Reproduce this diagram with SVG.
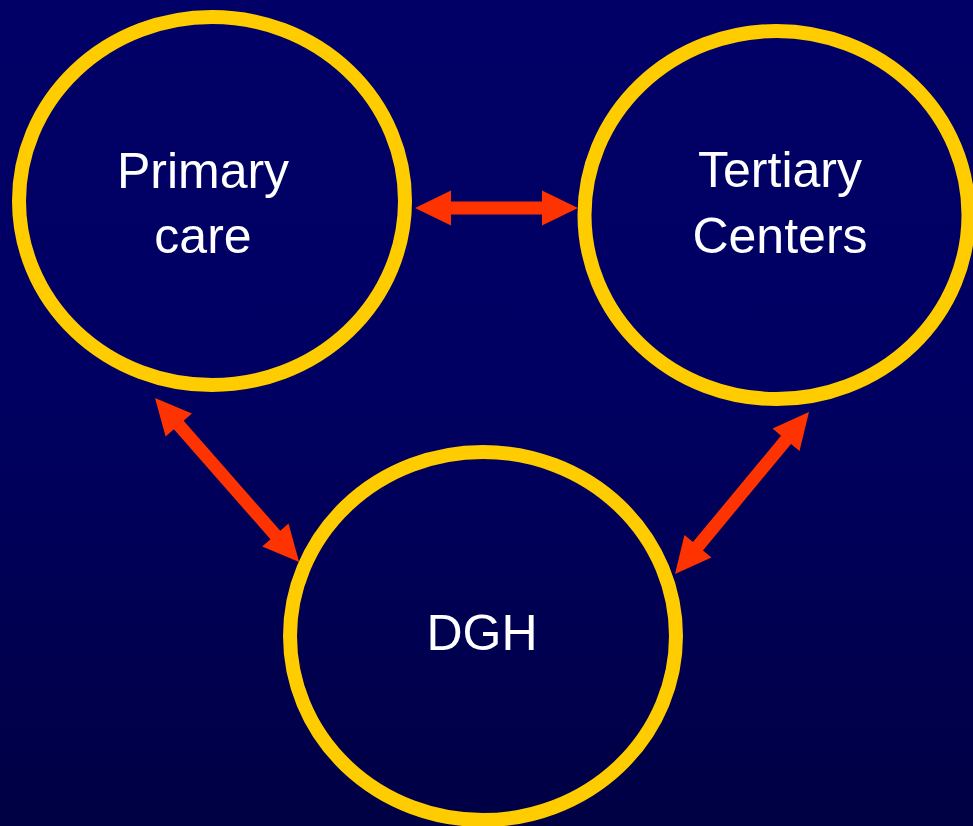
<svg xmlns="http://www.w3.org/2000/svg" width="973" height="826" viewBox="0 0 973 826">
  <defs>
    <linearGradient id="bg" x1="0" y1="0" x2="0" y2="1">
      <stop offset="0" stop-color="#000066"/>
      <stop offset="0.45" stop-color="#000063"/>
      <stop offset="1" stop-color="#000044"/>
    </linearGradient>
  </defs>
  <style>
    .ring { fill: none; stroke: #FFCC00; stroke-width: 14; }
    .lbl { fill: #FFFFFF; font-family: "Liberation Sans", Arial, sans-serif; font-size: 50px; text-anchor: middle; }
    .arr { fill: #FF3300; }
  </style>
  <rect x="0" y="0" width="973" height="826" fill="url(#bg)"/>
  <g id="connectors">
    <polygon class="arr" transform="translate(415,208)" points="0,0 36,-17.5 36,-6.5 127,-6.5 127,-17.5 163,0 127,17.5 127,6.5 36,6.5 36,17.5"/>
    <polygon class="arr" transform="translate(155,398) rotate(48.71)" points="0,0 36,-17.5 36,-6.5 182.4,-6.5 182.4,-17.5 218.4,0 182.4,17.5 182.4,6.5 36,6.5 36,17.5"/>
    <polygon class="arr" transform="translate(675,574) rotate(-50.4)" points="0,0 36,-17.5 36,-6.5 174.2,-6.5 174.2,-17.5 210.2,0 174.2,17.5 174.2,6.5 36,6.5 36,17.5"/>
  </g>
  <g id="primary">
    <ellipse class="ring" cx="212" cy="201" rx="193" ry="184"/>
    <text class="lbl" x="203" y="188">Primary</text>
    <text class="lbl" x="203" y="253">care</text>
  </g>
  <g id="tertiary">
    <ellipse class="ring" cx="776.5" cy="215" rx="192" ry="184"/>
    <text class="lbl" x="780" y="187">Tertiary</text>
    <text class="lbl" x="780" y="253">Centers</text>
  </g>
  <g id="dgh">
    <ellipse class="ring" cx="483" cy="636" rx="193" ry="184"/>
    <text class="lbl" x="482" y="650">DGH</text>
  </g>
</svg>
